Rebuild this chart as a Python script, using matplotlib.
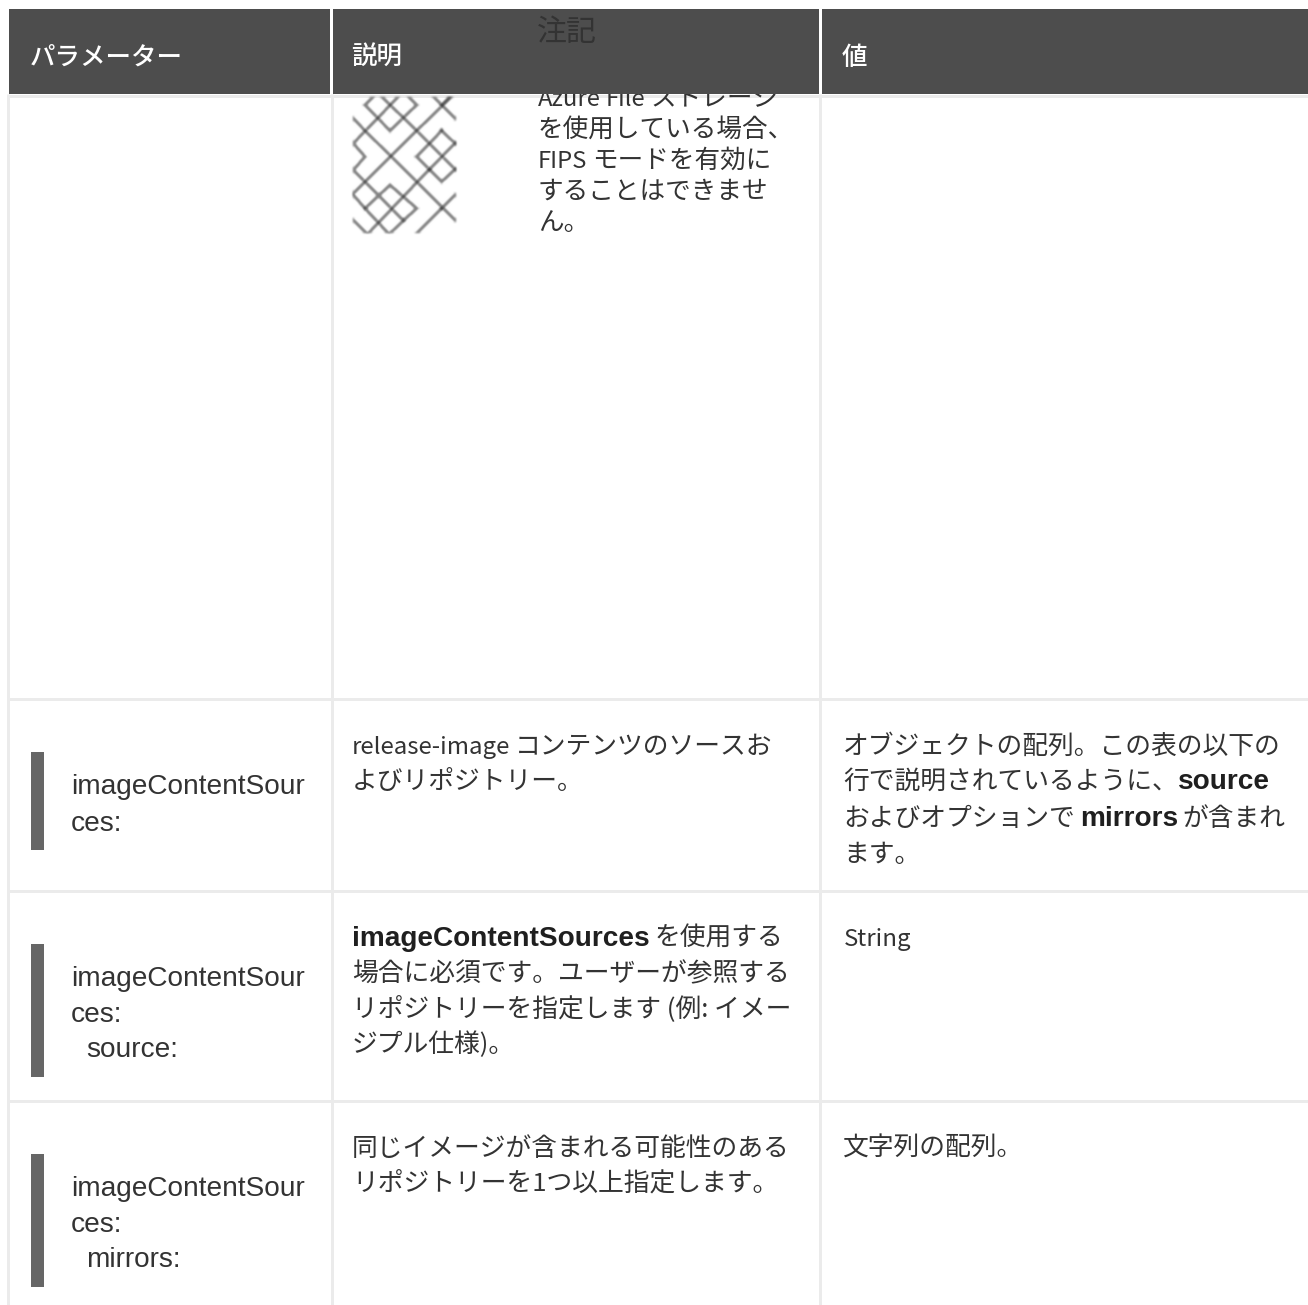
import re
import matplotlib
matplotlib.use('Agg')
import matplotlib.pyplot as plt
from matplotlib.patches import Rectangle
import numpy as np

JP = ['Noto Sans CJK JP', 'DejaVu Sans']
LAT = ['Liberation Sans', 'Noto Sans CJK JP']

HEADERS = ['パラメーター', '説明', '値']
NOTE_TITLE = '注記'
NOTE_LINES = ['Azure File ストレージ', 'を使用している場合、', 'FIPS モードを有効に', 'することはできませ', 'ん。']
PARAMS = [['imageContentSour', 'ces:'],
          ['imageContentSour', 'ces:', '  source:'],
          ['imageContentSour', 'ces:', '  mirrors:']]
# (text, bold) por tramo de cada linea
DESC_1 = [[('release-image コンテンツのソースお', False)], [('よびリポジトリー。', False)]]
VAL_1 = [[('オブジェクトの配列。この表の以下の', False)],
         [('行で説明されているように、', False), ('source', True)],
         [('およびオプションで ', False), ('mirrors', True), (' が含まれ', False)],
         [('ます。', False)]]
DESC_2 = [[('imageContentSources', True), (' を使用する', False)],
          [('場合に必須です。ユーザーが参照する', False)],
          [('リポジトリーを指定します (例: イメー', False)],
          [('ジプル仕様)。', False)]]
VAL_2 = [[('String', False)]]
DESC_3 = [[('同じイメージが含まれる可能性のある', False)], [('リポジトリーを1つ以上指定します。', False)]]
VAL_3 = [[('文字列の配列。', False)]]

# logo de fondo, en coordenadas del recorte
LOGO = [[(100, 20), (75, 45), (150, 122), (230, 45), (205, 20)],
        [(125, 20), (230, 122), (345, 238)],
        [(175, 20), (40, 160), (75, 200), (40, 240), (75, 275), (115, 315), (190, 392), (230, 355), (150, 285), (75, 355), (145, 430)],
        [(40, 85), (75, 122), (230, 275), (345, 390)],
        [(345, 10), (230, 122), (75, 275), (40, 310)],
        [(280, 20), (345, 85)],
        [(330, 20), (305, 45)],
        [(305, 122), (230, 200), (305, 275), (345, 238)],
        [(305, 122), (345, 160)],
        [(268, 238), (345, 160)],
        [(268, 238), (85, 430)],
        [(40, 315), (75, 355)],
        [(40, 390), (80, 430)],
        [(190, 392), (150, 430)],
        [(305, 355), (345, 315)],
        [(305, 355), (230, 430)]]

INK = '#333333'
GRID = '#ebebeb'
HEAD = '#4d4d4d'
BAR = '#666666'
PX = 0.72
SPACE = 5

fig = plt.figure(figsize=(13.08, 13.05), dpi=100, facecolor='white')
ax = fig.add_axes([0, 0, 1, 1])
ax.set_xlim(0, 1308)
ax.set_ylim(1305, 0)
ax.axis('off')
renderer = fig.canvas.get_renderer()


def blur(img, dpi):
    # difuminado simple para imitar el logo escalado
    pad = 4
    out = np.pad(img, ((pad, pad), (pad, pad), (0, 0)))
    k = np.array([1, 4, 6, 4, 1], float) / 16
    for axis in (0, 1):
        out = np.apply_along_axis(lambda v: np.convolve(v, k, mode='same'), axis, out)
    return out, -pad, -pad


def put(x, y, txt, size, color, family, weight):
    # escribe un tramo y devuelve donde termina
    leading = len(txt) - len(txt.lstrip(' '))
    trailing = len(txt) - len(txt.rstrip(' '))
    core = txt.strip(' ')
    if not core:
        return x + len(txt) * SPACE
    x += leading * SPACE
    t = ax.text(x, y, core, fontsize=size * PX, color=color, va='baseline', family=family, fontweight=weight, zorder=3)
    return t.get_window_extent(renderer).x1 + trailing * SPACE


def runs(x, y, parts, size=25.8):
    for txt, bold in parts:
        if bold:
            x = put(x, y, txt, 28, '#1f1f1f', LAT, 'bold')
            continue
        # el latin de la fuente original es mas estrecho que el de Noto
        for piece in re.findall(r'[A-Za-z\-]+|[^A-Za-z\-]+', txt):
            small = re.fullmatch(r'[A-Za-z\-]+', piece) is not None
            x = put(x, y, piece, size * 0.93 if small else size, INK, JP, 'regular')


def block(x, baselines, lines, size=25.8):
    for y, parts in zip(baselines, lines):
        runs(x, y, parts, size)


# rejilla
for x in [8, 331.5, 820]:
    ax.plot([x, x], [94, 1305], color=GRID, lw=3 * PX, solid_capstyle='butt', zorder=1)
for y in [95.5, 699, 891, 1101]:
    ax.plot([8, 1308], [y, y], color=GRID, lw=3 * PX, solid_capstyle='butt', zorder=1)

# logo
clip = Rectangle((353, 97), 103, 136, transform=ax.transData)
for seg in LOGO:
    xs = [340 + p[0] / 3 for p in seg]
    ys = [90 + p[1] / 3 for p in seg]
    ln, = ax.plot(xs, ys, color='#333333', lw=3.5 * PX, alpha=0.62, zorder=2, solid_joinstyle='miter')
    ln.set_clip_path(clip)
    ln.set_agg_filter(blur)

# nota, el texto queda bajo la cabecera salvo el titulo
block(538, [106, 137, 168, 199, 230], [[(s, False)] for s in NOTE_LINES], size=25.6)

# cabecera
for x0, x1 in [(9, 330), (333, 818.5), (821.5, 1308)]:
    ax.add_patch(Rectangle((x0, 9), x1 - x0, 85, facecolor=HEAD, edgecolor='none', zorder=4))
for x, s in zip([30, 351, 842], HEADERS):
    ax.text(x, 65, s, color='white', fontsize=25.5 * PX, family=JP, fontweight='medium', va='baseline', zorder=5)
ax.text(537, 41, NOTE_TITLE, color='#333333', fontsize=30 * PX, family=JP, va='baseline', zorder=5)

# filas
for bar, lines, base in [((752, 850), PARAMS[0], [794, 831]),
                         ((944, 1077), PARAMS[1], [986, 1022, 1057]),
                         ((1154, 1287), PARAMS[2], [1196, 1232, 1267])]:
    ax.add_patch(Rectangle((31, bar[0]), 13, bar[1] - bar[0], facecolor=BAR, edgecolor='none', zorder=3))
    for y, s in zip(base, lines):
        ind = 15 if s.startswith(' ') else 0
        ax.text(71 + ind, y, s.strip(), fontsize=28 * PX, color='#333333', family=LAT, va='baseline', zorder=3)

block(352, [754, 789], DESC_1)
block(843, [754, 789, 826, 862], VAL_1)
block(352, [946, 981, 1016, 1052], DESC_2)
block(844, [946], VAL_2)
block(352, [1156, 1191], DESC_3)
block(843, [1156], VAL_3)

fig.savefig('out.png', dpi=100, facecolor='white')
